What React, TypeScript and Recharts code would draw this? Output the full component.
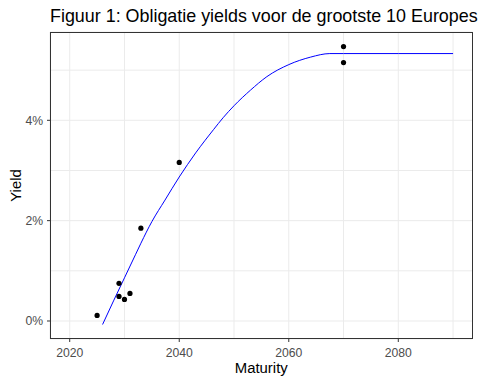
import React from 'react';
import { ComposedChart, Line, Scatter, XAxis, YAxis, CartesianGrid, ReferenceLine } from 'recharts';

const bondMaturity = [2025, 2029, 2029, 2030, 2031, 2033, 2040, 2070, 2070];
const bondYield = [0.11, 0.75, 0.49, 0.43, 0.55, 1.85, 3.16, 5.47, 5.15];

const curveYears = [2026, 2028, 2030, 2032, 2033, 2035, 2037.4, 2040, 2043, 2046.3, 2048, 2050, 2053, 2056, 2060, 2064, 2067.5, 2070, 2080, 2090];
const curveYield = [-0.07, 0.4, 0.86, 1.32, 1.55, 1.98, 2.41, 2.87, 3.35, 3.82, 4.05, 4.29, 4.6, 4.87, 5.11, 5.26, 5.33, 5.33, 5.33, 5.33];

const xTicks = [2020, 2040, 2060, 2080];
const xMinor = [2030, 2050, 2070, 2090];
const yTicks = [0, 2, 4];
const yMinor = [1, 3, 5];

const points = bondMaturity.map((m, i) => ({ x: m, y: bondYield[i] }));
const curve = curveYears.map((m, i) => ({ x: m, y: curveYield[i] }));

const FONT = 'Liberation Sans, Arial, sans-serif';

export default function App() {
  return (
    <div style={{ position: 'absolute', left: 0, top: 0, width: 480, height: 384, background: '#fff', fontFamily: FONT }}>
      <ComposedChart width={480} height={384} margin={{ top: 32, right: 7.5, bottom: 0, left: 0 }}>
        <CartesianGrid stroke="#EBEBEB" strokeWidth={1} />
        {xMinor.map((v) => (
          <ReferenceLine key={'vx' + v} x={v} stroke="#EBEBEB" strokeWidth={1} ifOverflow="extendDomain" />
        ))}
        {yMinor.map((v) => (
          <ReferenceLine key={'hy' + v} y={v} stroke="#EBEBEB" strokeWidth={1} />
        ))}
        <XAxis
          type="number"
          dataKey="x"
          domain={[2016.4, 2093.55]}
          allowDataOverflow
          ticks={xTicks}
          height={45}
          tickSize={3}
          tickMargin={6}
          axisLine={false}
          tickLine={{ stroke: '#333333' }}
          tick={{ fill: '#4D4D4D', fontSize: 12.2, fontFamily: FONT }}
          label={{ value: 'Maturity', position: 'insideBottom', offset: 11, fill: '#000', fontSize: 14.9, fontFamily: FONT }}
        />
        <YAxis
          type="number"
          dataKey="y"
          domain={[-0.359, 5.76]}
          allowDataOverflow
          ticks={yTicks}
          width={50}
          tickSize={3}
          tickMargin={4}
          axisLine={false}
          tickLine={{ stroke: '#333333' }}
          tickFormatter={(v: number) => `${v}%`}
          tick={{ fill: '#4D4D4D', fontSize: 12.2, fontFamily: FONT }}
        />
        <Line data={curve} dataKey="y" type="monotone" stroke="#0000FF" strokeWidth={1} dot={false} isAnimationActive={false} />
        <Scatter data={points} dataKey="y" fill="#000" isAnimationActive={false} shape={(p: any) => <circle cx={p.cx} cy={p.cy} r={2.6} fill="#000" />} />
      </ComposedChart>
      <svg width={480} height={384} style={{ position: 'absolute', left: 0, top: 0, pointerEvents: 'none' }}>
        <rect x={50.5} y={32.5} width={422} height={306} fill="none" stroke="#333333" strokeWidth={1} />
        <text x={50} y={21.7} fontSize={17.9} fontFamily={FONT} fill="#000">Figuur 1: Obligatie yields voor de grootste 10 Europes</text>
        <text x={0} y={0} transform="translate(20.5,185.5) rotate(-90)" textAnchor="middle" fontSize={14.9} fontFamily={FONT} fill="#000">Yield</text>
      </svg>
    </div>
  );
}
